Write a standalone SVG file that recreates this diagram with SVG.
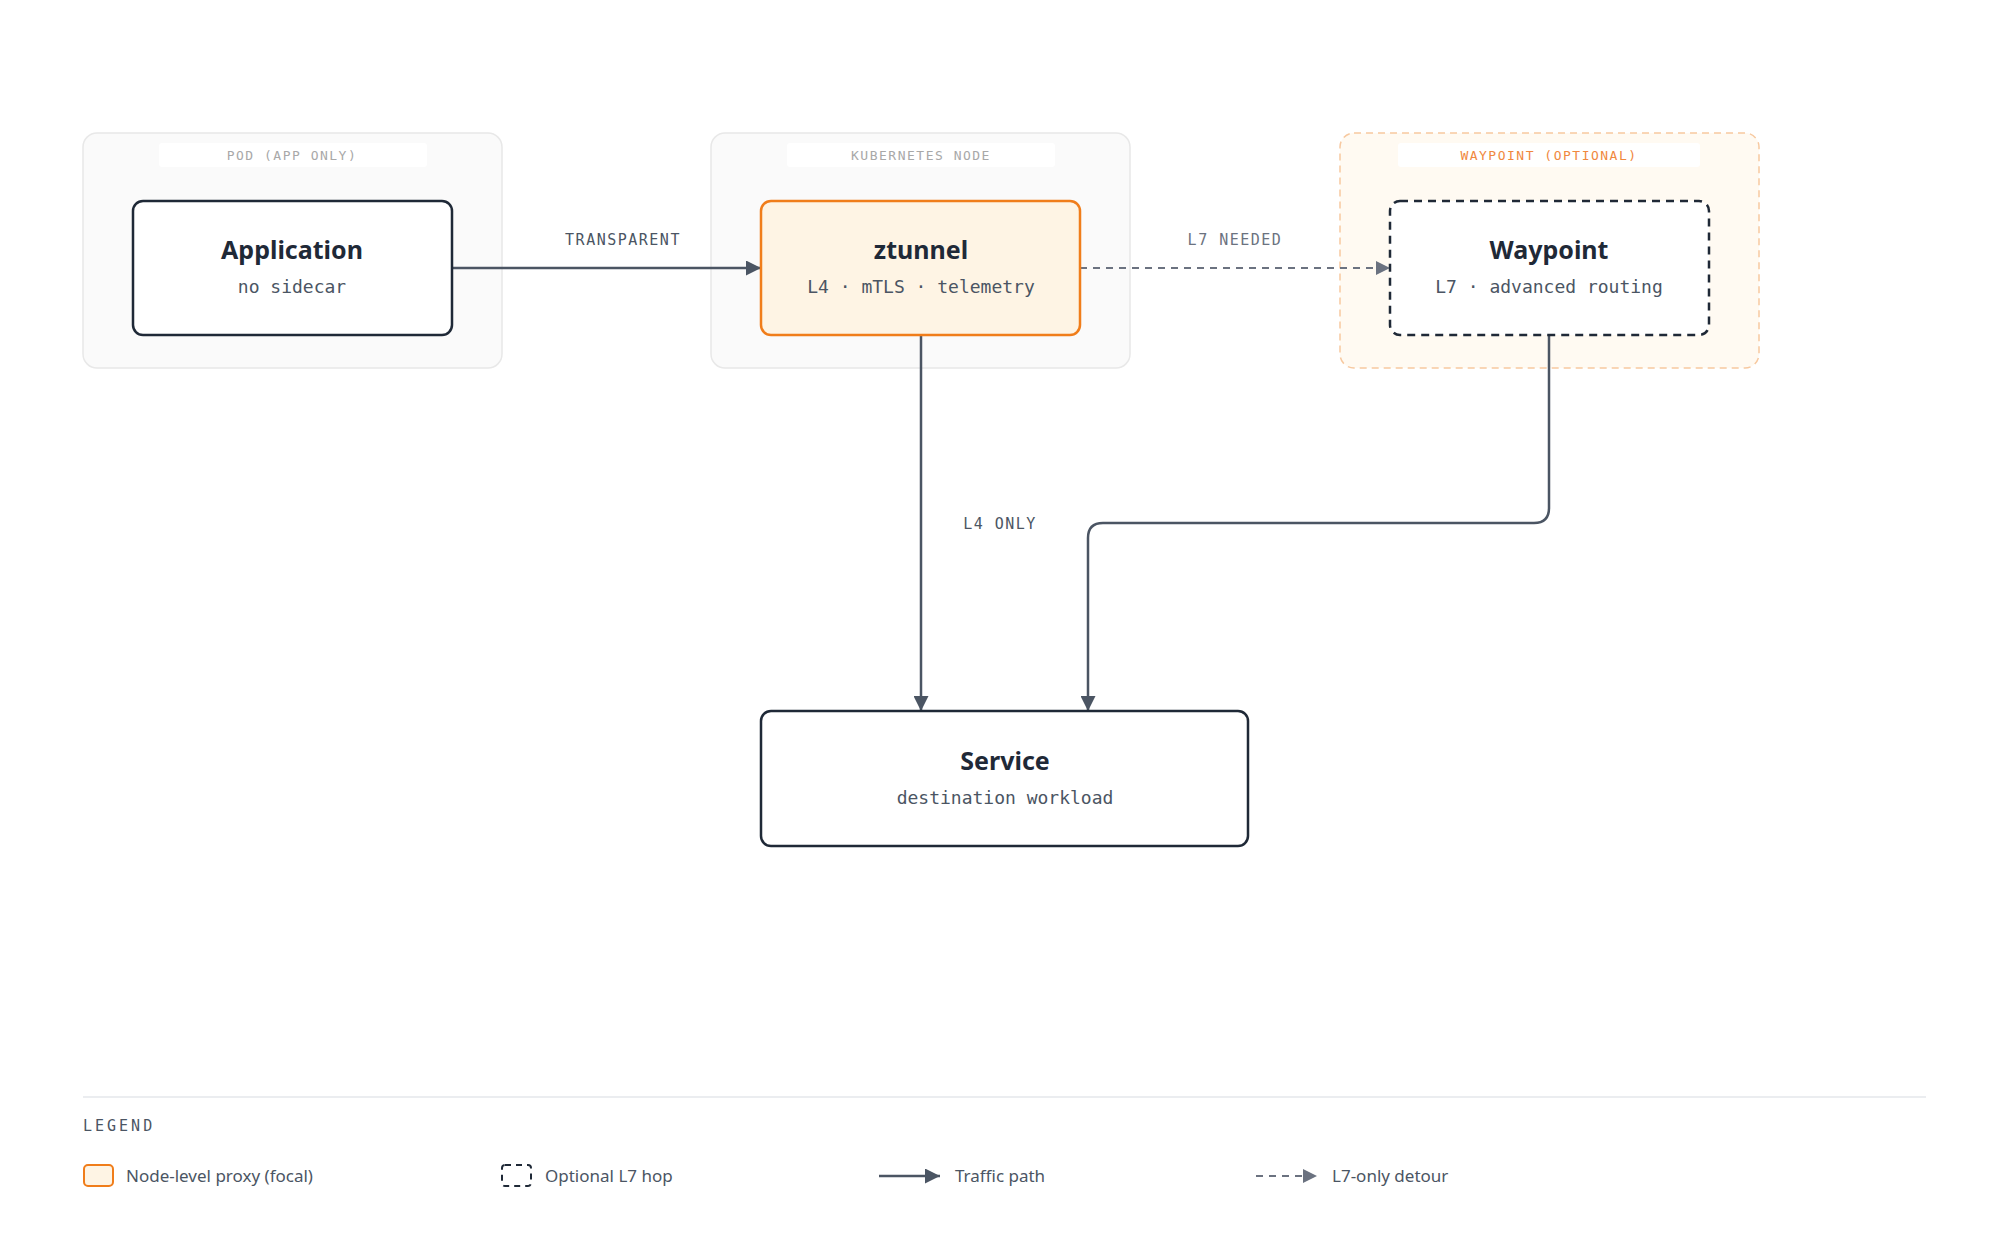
<svg xmlns="http://www.w3.org/2000/svg" width="2000" height="1252" viewBox="0 0 2000 1252">
<defs>
<style>
.grp{fill:#fafafa;stroke:#e8e8e8;stroke-width:1.5}
.pill{fill:#ffffff}
.glab{font-family:"DejaVu Sans Mono","Liberation Mono",monospace;font-size:13px;letter-spacing:1.5px;fill:#a8a8a8;text-anchor:middle}
.node{fill:#ffffff;stroke:#1f2937;stroke-width:2.5}
.title{font-family:"Noto Sans","Open Sans",sans-serif;font-weight:700;font-size:25px;fill:#1f2937;text-anchor:middle}
.sub{font-family:"DejaVu Sans Mono","Liberation Mono",monospace;font-size:18px;fill:#4b5563;text-anchor:middle}
.elab{font-family:"DejaVu Sans Mono","Liberation Mono",monospace;font-size:15px;letter-spacing:1.5px;fill:#4b5563;text-anchor:middle}
.edge{fill:none;stroke:#4b5563;stroke-width:2.5}
.dash{fill:none;stroke:#6b7280;stroke-width:2;stroke-dasharray:7 6}
.leg{font-family:"Noto Sans","Open Sans",sans-serif;font-size:17px;fill:#4b5563}
</style>
<marker id="ah" viewBox="0 0 10 10" refX="10" refY="5" markerWidth="6" markerHeight="6" markerUnits="strokeWidth" orient="auto"><path d="M0,0 L10,5 L0,10 z" fill="#4b5563"/></marker>
<marker id="ahd" viewBox="0 0 10 10" refX="10" refY="5" markerWidth="7" markerHeight="7" markerUnits="strokeWidth" orient="auto"><path d="M0,0 L10,5 L0,10 z" fill="#6b7280"/></marker>
</defs>
<rect width="2000" height="1252" fill="#ffffff"/>
<g id="pod">
<rect class="grp" x="83" y="133" width="419" height="235" rx="14"/>
<rect class="pill" x="159" y="143" width="268" height="24" rx="3"/>
<text class="glab" x="292" y="160">POD (APP ONLY)</text>
</g>
<g id="k8snode">
<rect class="grp" x="711" y="133" width="419" height="235" rx="14"/>
<rect class="pill" x="787" y="143" width="268" height="24" rx="3"/>
<text class="glab" x="921" y="160">KUBERNETES NODE</text>
</g>
<g id="waypointgroup">
<rect x="1340" y="133" width="419" height="235" rx="14" fill="#fffaf2" stroke="#f7c9a0" stroke-width="1.5" stroke-dasharray="7 5"/>
<rect class="pill" x="1398" y="143" width="302" height="24" rx="3"/>
<text class="glab" x="1549" y="160" style="fill:#f0883e">WAYPOINT (OPTIONAL)</text>
</g>
<g id="connectors">
<line class="edge" x1="452" y1="268" x2="761" y2="268" marker-end="url(#ah)"/>
<text class="elab" x="623" y="245">TRANSPARENT</text>
<line class="dash" x1="1080" y1="268" x2="1390" y2="268" marker-end="url(#ahd)"/>
<text class="elab" x="1235" y="245" style="fill:#6b7280">L7 NEEDED</text>
<line class="edge" x1="921" y1="335" x2="921" y2="711" marker-end="url(#ah)"/>
<text class="elab" x="1000" y="529">L4 ONLY</text>
<path class="edge" d="M1549,335 V508 Q1549,523 1534,523 H1103 Q1088,523 1088,538 V711" marker-end="url(#ah)"/>
</g>
<g id="application">
<rect class="node" x="133" y="201" width="319" height="134" rx="10"/>
<text class="title" x="292" y="259">Application</text>
<text class="sub" x="292" y="293">no sidecar</text>
</g>
<g id="ztunnel">
<rect x="761" y="201" width="319" height="134" rx="10" fill="#fef4e4" stroke="#f07d1a" stroke-width="2.5"/>
<text class="title" x="921" y="259">ztunnel</text>
<text class="sub" x="921" y="293">L4 · mTLS · telemetry</text>
</g>
<g id="waypoint">
<rect class="node" x="1390" y="201" width="319" height="134" rx="10" stroke-dasharray="8 6"/>
<text class="title" x="1549" y="259">Waypoint</text>
<text class="sub" x="1549" y="293">L7 · advanced routing</text>
</g>
<g id="service">
<rect class="node" x="761" y="711" width="487" height="135" rx="10"/>
<text class="title" x="1005" y="770">Service</text>
<text class="sub" x="1005" y="804">destination workload</text>
</g>
<g id="legend">
<line x1="83" y1="1097" x2="1926" y2="1097" stroke="#e5e7eb" stroke-width="1.5"/>
<text x="83" y="1131" style="font-family:'DejaVu Sans Mono','Liberation Mono',monospace;font-size:15px;letter-spacing:3px;fill:#4b5563">LEGEND</text>
<rect x="84" y="1165" width="29" height="21" rx="4" fill="#fef4e4" stroke="#f07d1a" stroke-width="2"/>
<text class="leg" x="126" y="1182">Node-level proxy (focal)</text>
<rect x="502" y="1165" width="29" height="21" rx="3" fill="#fff" stroke="#1f2937" stroke-width="2" stroke-dasharray="6 5"/>
<text class="leg" x="545" y="1182">Optional L7 hop</text>
<line class="edge" x1="879" y1="1176" x2="940" y2="1176" marker-end="url(#ah)"/>
<text class="leg" x="955" y="1182">Traffic path</text>
<line class="dash" x1="1256" y1="1176" x2="1317" y2="1176" marker-end="url(#ahd)"/>
<text class="leg" x="1332" y="1182">L7-only detour</text>
</g>
</svg>
